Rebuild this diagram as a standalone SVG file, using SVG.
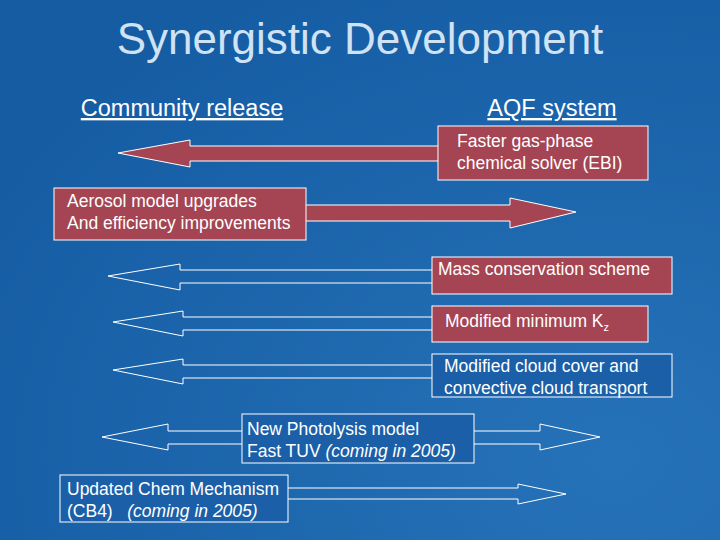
<svg xmlns="http://www.w3.org/2000/svg" width="720" height="540" viewBox="0 0 720 540">
<style>
text{font-family:"Liberation Sans",Arial,sans-serif;fill:#fff;white-space:pre}
.t{font-size:17.5px}
.red{fill:#a54553;stroke:#fff;stroke-width:1}
.blu{fill:#1a5fa8;stroke:#fff;stroke-width:1}
.ar{fill:#a54553;stroke:#fff;stroke-width:1}
.ho{fill:none;stroke:#fff;stroke-width:1}
</style>
<defs><radialGradient id="bg" cx="0.85" cy="0.85" r="1"><stop offset="0" stop-color="#2672b8"/><stop offset="1" stop-color="#155ca3"/></radialGradient></defs>
<rect width="720" height="540" fill="url(#bg)"/>
<text x="360" y="54" text-anchor="middle" font-size="44" style="fill:#cfe3f5">Synergistic Development</text>
<text x="182" y="116" text-anchor="middle" font-size="23.5" text-decoration="underline">Community release</text>
<text x="552" y="116" text-anchor="middle" font-size="23.5" text-decoration="underline">AQF system</text>
<g id="connectors">
<path class="ar" d="M438,146 H190 V140 L118,153 L190,167 V161 H438"/>
<path class="ar" d="M306,205 H510 V198 L576,212 L510,228 V221 H306"/>
<path class="ho" d="M432,270 H180 V264 L108,276 L180,290 V283 H432"/>
<path class="ho" d="M432,317 H183 V311 L113,322 L183,336 V330 H432"/>
<path class="ho" d="M432,365 H183 V359 L113,370 L183,384 V378 H432"/>
<path class="ho" d="M242,431 H168 V424 L102,437 L168,450 V444 H242"/>
<path class="ho" d="M474,431 H540 V424 L600,437 L540,450 V444 H474"/>
<path class="ho" d="M288,488 H518 V484 L566,494 L518,504 V499 H288"/>
</g>
<g id="n1"><rect class="red" x="438" y="126" width="210" height="54"/><text class="t" x="457" y="147">Faster gas-phase</text><text class="t" x="457" y="169">chemical solver (EBI)</text></g>
<g id="n2"><rect class="red" x="54" y="188" width="252" height="52"/><text class="t" x="67" y="207">Aerosol model upgrades</text><text class="t" x="67" y="229">And efficiency improvements</text></g>
<g id="n3"><rect class="red" x="432" y="257" width="240" height="37"/><text class="t" x="438" y="275">Mass conservation scheme</text></g>
<g id="n4"><rect class="red" x="432" y="306" width="216" height="36"/><text class="t" x="445" y="327">Modified minimum K<tspan font-size="11" dy="4">z</tspan></text></g>
<g id="n5"><rect class="blu" x="432" y="354" width="240" height="43"/><text class="t" x="444" y="372">Modified cloud cover and</text><text class="t" x="444" y="394">convective cloud transport</text></g>
<g id="n6"><rect class="blu" x="242" y="414" width="232" height="49"/><text class="t" x="247" y="435">New Photolysis model</text><text class="t" x="247" y="457">Fast TUV <tspan font-style="italic">(coming in 2005)</tspan></text></g>
<g id="n7"><rect class="blu" x="60" y="475" width="228" height="47"/><text class="t" x="67" y="495">Updated Chem Mechanism</text><text class="t" x="67" y="517">(CB4)   <tspan font-style="italic">(coming in 2005)</tspan></text></g>
</svg>
